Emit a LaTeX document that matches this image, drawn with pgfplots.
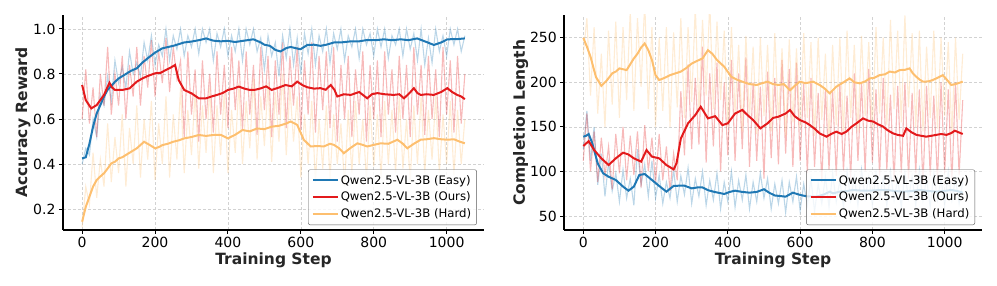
\documentclass[border=0pt]{standalone}
\usepackage{fontspec}
\setmainfont{DejaVu Sans}
\usepackage{pgfplots}
\pgfplotsset{compat=1.18}
\definecolor{cEasy}{HTML}{1F78B4}
\definecolor{cOurs}{HTML}{E31A1C}
\definecolor{cHard}{HTML}{FDBF6F}

\pgfplotsset{
  mystyle/.style={
    scale only axis,
    axis x line*=bottom, axis y line*=left,
    axis line style={-, line width=1.8pt, black},
    tick align=outside,
    major tick length=4pt,
    every tick/.style={black, line width=1pt},
    grid=major,
    major grid style={gray!35, dash pattern=on 3pt off 2pt, line width=0.6pt},
    xmin=-52.5, xmax=1102.5,
    xtick={0,200,400,600,800,1000},
    scaled ticks=false,
    /pgf/number format/assume math mode=true,
    /pgf/number format/1000 sep={},
    tick label style={font=\fontsize{14}{15}\selectfont},
    xlabel={\fontsize{15.5}{16}\selectfont\bfseries Training Step},
    xlabel style={at={(axis description cs:0.5,-0.14)}, anchor=center, text=black!85},
    legend cell align=left,
    legend image code/.code={\draw[#1, line width=2pt] (0pt,0pt) -- (25pt,0pt);},
    legend style={anchor=south east, draw=gray!70!black, rounded corners=2pt,
      fill=white, fill opacity=0.8, text opacity=1,
      font=\fontsize{11.7}{13}\selectfont, row sep=2.5pt, inner sep=3.5pt},
  },
  raw/.style={line width=1.1pt, opacity=0.3, forget plot},
  smooth/.style={line width=2pt},
}

\begin{document}
\begin{tikzpicture}
\path[use as bounding box] (0,0) rectangle (997pt,286pt);

% ---------------- Left: Accuracy Reward ----------------
\begin{axis}[mystyle,
  at={(63pt,56pt)}, anchor=south west,
  width=421pt, height=215pt,
  ymin=0.107, ymax=1.062,
  ytick={0.2,0.4,0.6,0.8,1.0},
  yticklabel style={/pgf/number format/.cd, fixed, fixed zerofill, precision=1},
  ylabel={\fontsize{15.5}{16}\selectfont\bfseries Accuracy Reward},
  ylabel style={at={(axis description cs:-0.095,0.5)}, anchor=center, text=black!85},
  legend style={at={(axis description cs:0.983,0.023)}},
]
% raw easy
\addplot[cEasy, raw] table {
0 0.40
10 0.47
20 0.44
30 0.60
40 0.52
50 0.71
60 0.66
70 0.79
80 0.68
90 0.86
100 0.76
110 0.83
120 0.74
130 0.90
140 0.80
150 0.85
160 0.79
170 0.94
180 0.86
190 0.97
200 0.84
210 0.93
220 0.88
230 1.00
240 0.86
250 0.97
260 0.91
270 1.00
280 0.88
290 0.97
300 0.92
310 1.00
320 0.89
330 1.00
340 0.94
350 1.00
360 0.86
370 0.98
380 0.92
390 1.00
400 0.88
410 0.97
420 0.90
430 1.00
440 0.86
450 1.00
460 0.93
470 1.00
480 0.90
490 0.96
500 0.82
510 0.97
520 0.88
530 0.94
540 0.79
550 0.97
560 0.87
570 1.00
580 0.84
590 0.96
600 0.80
610 0.98
620 0.89
630 1.00
640 0.84
650 0.97
660 0.90
670 1.00
680 0.85
690 0.98
700 0.91
710 1.00
720 0.86
730 0.97
740 0.92
750 1.00
760 0.87
770 1.00
780 0.93
790 0.98
800 0.88
810 1.00
820 0.92
830 1.00
840 0.87
850 0.97
860 0.93
870 1.00
880 0.88
890 1.00
900 0.91
910 0.98
920 0.86
930 1.00
940 0.84
950 0.96
960 0.85
970 1.00
980 0.90
990 0.97
1000 0.88
1010 1.00
1020 0.93
1030 1.00
1040 0.90
1050 0.97
};
% raw ours
\addplot[cOurs, raw] table {
0 0.60
10 0.82
20 0.58
30 0.74
40 0.52
50 0.80
60 0.66
70 0.92
80 0.62
90 0.80
100 0.66
110 0.88
120 0.60
130 0.84
140 0.70
150 0.92
160 0.66
170 0.88
180 0.74
190 0.95
200 0.70
210 0.90
220 0.76
230 0.96
240 0.72
250 0.92
260 0.78
270 0.86
280 0.52
290 0.90
300 0.62
310 0.82
320 0.50
330 0.86
340 0.60
350 0.80
360 0.54
370 0.90
380 0.62
390 0.84
400 0.56
410 0.92
420 0.64
430 0.86
440 0.55
450 0.90
460 0.62
470 0.84
480 0.53
490 0.92
500 0.64
510 0.88
520 0.52
530 0.86
540 0.62
550 0.94
560 0.56
570 0.88
580 0.66
590 0.92
600 0.55
610 0.86
620 0.62
630 0.94
640 0.54
650 0.88
660 0.64
670 0.90
680 0.56
690 0.92
700 0.50
710 0.84
720 0.60
730 0.88
740 0.52
750 0.82
760 0.62
770 0.90
780 0.50
790 0.84
800 0.60
810 0.86
820 0.52
830 0.90
840 0.62
850 0.82
860 0.54
870 0.88
880 0.60
890 0.84
900 0.52
910 0.92
920 0.62
930 0.84
940 0.53
950 0.88
960 0.60
970 0.82
980 0.52
990 0.92
1000 0.62
1010 0.86
1020 0.54
1030 0.88
1040 0.58
1050 0.80
};
% raw hard
\addplot[cHard, raw] table {
0 0.12
10 0.30
20 0.22
30 0.45
40 0.25
50 0.42
60 0.30
70 0.58
80 0.32
90 0.52
100 0.36
110 0.62
120 0.30
130 0.56
140 0.40
150 0.66
160 0.34
170 0.60
180 0.42
190 0.68
200 0.33
210 0.58
220 0.40
230 0.70
240 0.34
250 0.62
260 0.42
270 0.74
280 0.36
290 0.64
300 0.44
310 0.72
320 0.38
330 0.66
340 0.45
350 0.74
360 0.36
370 0.66
380 0.44
390 0.72
400 0.36
410 0.64
420 0.45
430 0.76
440 0.40
450 0.68
460 0.47
470 0.78
480 0.42
490 0.70
500 0.48
510 0.76
520 0.41
530 0.72
540 0.50
550 0.80
560 0.44
570 0.74
580 0.50
590 0.70
600 0.34
610 0.62
620 0.40
630 0.68
640 0.32
650 0.60
660 0.38
670 0.66
680 0.33
690 0.62
700 0.40
710 0.58
720 0.30
730 0.64
740 0.36
750 0.68
760 0.40
770 0.60
780 0.33
790 0.66
800 0.39
810 0.62
820 0.34
830 0.68
840 0.40
850 0.64
860 0.36
870 0.70
880 0.38
890 0.60
900 0.32
910 0.66
920 0.40
930 0.70
940 0.36
950 0.64
960 0.42
970 0.70
980 0.36
990 0.62
1000 0.40
1010 0.68
1020 0.35
1030 0.64
1040 0.40
1050 0.60
};
% smoothed
\addplot[cEasy, smooth] table {
0 0.425
10 0.43
20 0.49
30 0.566
40 0.625
50 0.662
60 0.70
70 0.73
80 0.747
90 0.765
100 0.78
120 0.80
135 0.815
150 0.825
165 0.85
180 0.87
200 0.895
220 0.914
250 0.925
280 0.94
300 0.944
320 0.95
340 0.958
360 0.948
380 0.945
400 0.947
420 0.942
440 0.947
470 0.954
490 0.94
500 0.93
515 0.925
530 0.907
544 0.90
560 0.915
572 0.92
585 0.915
599 0.91
618 0.929
636 0.93
654 0.925
670 0.93
691 0.94
710 0.94
737 0.945
760 0.945
782 0.951
805 0.95
828 0.954
850 0.95
874 0.954
895 0.95
919 0.958
940 0.945
965 0.929
985 0.94
1002 0.954
1030 0.955
1050 0.958
};
\addlegendentry{Qwen2.5-VL-3B (Easy)}
\addplot[cOurs, smooth] table {
0 0.751
10 0.684
25 0.647
40 0.662
60 0.707
75 0.761
82 0.74
90 0.729
110 0.729
130 0.736
150 0.766
165 0.78
180 0.791
200 0.803
215 0.805
230 0.818
245 0.83
255 0.84
265 0.773
280 0.729
300 0.714
320 0.692
340 0.692
355 0.70
370 0.707
385 0.715
400 0.729
415 0.735
430 0.744
445 0.735
460 0.729
475 0.73
490 0.736
505 0.745
520 0.729
540 0.74
558 0.751
575 0.745
590 0.766
605 0.75
618 0.741
636 0.735
654 0.737
668 0.73
682 0.751
692 0.73
700 0.70
718 0.71
737 0.707
760 0.72
782 0.692
795 0.71
810 0.715
830 0.71
855 0.707
870 0.71
883 0.692
898 0.715
910 0.737
920 0.715
929 0.707
945 0.71
965 0.707
985 0.72
1002 0.737
1015 0.72
1029 0.707
1040 0.70
1050 0.688
};
\addlegendentry{Qwen2.5-VL-3B (Ours)}
\addplot[cHard, smooth] table {
0 0.144
10 0.21
20 0.255
30 0.30
40 0.329
50 0.345
60 0.359
70 0.38
80 0.403
90 0.41
100 0.425
110 0.43
120 0.44
135 0.455
150 0.47
170 0.499
185 0.485
200 0.47
210 0.475
220 0.484
235 0.49
250 0.499
265 0.505
280 0.514
300 0.52
320 0.529
340 0.525
360 0.529
380 0.53
400 0.514
420 0.53
440 0.551
460 0.545
480 0.558
500 0.555
520 0.566
540 0.57
560 0.58
572 0.589
590 0.574
608 0.508
627 0.478
645 0.48
663 0.478
680 0.49
691 0.485
705 0.47
718 0.448
735 0.47
755 0.492
770 0.485
782 0.478
800 0.485
819 0.492
840 0.49
865 0.508
880 0.49
892 0.47
910 0.49
929 0.508
945 0.51
965 0.515
985 0.51
1002 0.508
1020 0.51
1035 0.50
1050 0.492
};
\addlegendentry{Qwen2.5-VL-3B (Hard)}
\end{axis}

% ---------------- Right: Completion Length ----------------
\begin{axis}[mystyle,
  at={(564.3pt,56pt)}, anchor=south west,
  width=417.4pt, height=215pt,
  ymin=34.3, ymax=275.5,
  ytick={50,100,150,200,250},
  ylabel={\fontsize{15.5}{16}\selectfont\bfseries Completion Length},
  ylabel style={at={(axis description cs:-0.1045,0.5)}, anchor=center, text=black!85},
  legend style={at={(axis description cs:0.984,0.023)}},
]
% raw easy
\addplot[cEasy, raw] table {
0 125
10 168
20 112
30 150
40 85
50 120
60 72
70 110
80 78
90 98
100 66
110 102
120 70
130 92
140 62
150 125
160 85
170 108
180 72
190 112
200 70
210 96
220 64
230 88
240 70
250 102
260 66
270 95
280 74
290 104
300 64
310 92
320 72
330 100
340 62
350 90
360 68
370 98
380 58
390 88
400 66
410 100
420 60
430 90
440 68
450 96
460 58
470 88
480 66
490 98
500 70
510 92
520 58
530 86
540 64
550 90
560 54
570 88
580 66
590 94
600 56
610 86
620 62
630 92
640 55
650 86
660 64
670 94
680 60
690 98
700 66
710 90
720 60
730 100
740 68
750 94
760 62
770 102
780 70
790 94
800 62
810 98
820 70
830 92
840 62
850 100
860 68
870 92
880 60
890 98
900 70
910 94
920 62
930 102
940 68
950 92
960 60
970 98
980 68
990 92
1000 62
1010 100
1020 68
1030 92
1040 64
1050 88
};
% raw ours
\addplot[cOurs, raw] table {
0 112
10 165
20 100
30 145
40 88
50 138
60 95
70 128
80 80
90 142
100 98
110 150
120 90
130 140
140 96
150 145
160 82
170 152
180 100
190 138
200 86
210 142
220 90
230 128
240 78
250 120
260 90
270 190
280 118
290 220
300 125
310 205
320 130
330 240
340 110
350 210
360 128
370 222
380 100
390 200
400 118
410 225
420 112
430 210
440 125
450 228
460 105
470 200
480 112
490 195
500 92
510 212
520 115
530 205
540 108
550 225
560 120
570 215
580 105
590 222
600 112
610 198
620 98
630 205
640 105
650 188
660 88
670 192
680 102
690 190
700 95
710 198
720 100
730 185
740 92
750 210
760 112
770 200
780 100
790 215
800 110
810 192
820 95
830 205
840 102
850 186
860 88
870 196
880 98
890 200
900 92
910 188
920 98
930 192
940 85
950 196
960 95
970 185
980 90
990 200
1000 98
1010 192
1020 88
1030 200
1040 96
1050 180
};
% raw hard
\addplot[cHard, raw] table {
0 232
10 272
20 185
30 262
40 165
50 232
60 150
70 258
80 175
90 268
100 160
110 262
120 180
130 280
140 168
150 272
160 195
170 290
180 170
190 262
200 150
210 250
220 168
230 262
240 150
250 256
260 172
270 272
280 160
290 262
300 178
310 285
320 165
330 270
340 185
350 290
360 170
370 268
380 180
390 258
400 150
410 262
420 165
430 242
440 145
450 252
460 160
470 240
480 142
490 250
500 162
510 242
520 145
530 255
540 158
550 238
560 140
570 248
580 155
590 238
600 148
610 255
620 160
630 245
640 140
650 250
660 158
670 232
680 135
690 242
700 152
710 250
720 142
730 258
740 160
750 242
760 145
770 252
780 162
790 245
800 148
810 262
820 165
830 250
840 152
850 270
860 170
870 258
880 155
890 275
900 172
910 255
920 150
930 258
940 145
950 240
960 160
970 258
980 148
990 250
1000 162
1010 245
1020 140
1030 250
1040 158
1050 232
};
% smoothed
\addplot[cEasy, smooth] table {
0 139
8 140
15 142
25 131.5
40 109
55 97.9
70 94.1
90 90.4
110 83
125 78.4
140 83
155 96
170 97.1
190 90.4
210 83.7
230 77.3
250 83.7
265 84
280 84
300 81
315 82
330 82
345 79
360 77.3
375 76
390 74.7
405 77
420 78.4
440 77
460 76.2
480 77
500 80
515 76
530 73
545 72.4
560 71.7
580 76.2
600 73.6
620 72
645 71.7
665 74
682 77.3
691 75.4
710 77.3
730 78
746 79.2
770 78.5
793 78.4
815 79
839 79.2
862 78
885 77.3
908 78
931 79.2
955 78
977 77.3
998 78
1018 79.2
1035 78
1050 76.2
};
\addlegendentry{Qwen2.5-VL-3B (Easy)}
\addplot[cOurs, smooth] table {
0 128.5
15 134
30 124
50 114.7
70 107.2
90 114.7
110 121
125 119
140 114.7
160 111
175 124
190 116.6
210 114.7
230 107.2
250 102.3
258 109
270 137
290 154
310 163.3
325 172.6
345 159.5
365 162
385 152
400 154
420 165
440 169
455 163
470 157.7
490 148.3
510 154
525 160
540 161.4
560 165
572 168.9
585 162
599 157.7
615 155
627 152
640 148
654 142.7
673 139
686 142
700 144.6
715 142
728 144.6
742 150
756 154
774 159.5
788 157
802 156
815 153
829 150.4
843 146
857 142.7
870 141
885 140
894 148.3
908 144
922 141
935 140
949 139
963 140
977 141
990 142
1005 141
1018 143
1028 145.7
1050 142
};
\addlegendentry{Qwen2.5-VL-3B (Ours)}
\addplot[cHard, smooth] table {
0 250
10 240
20 228.7
35 206
50 196
65 202
80 210
90 212
100 215.6
120 213.7
140 226.8
150 232
160 239
170 243.6
180 236
190 225
200 208
210 202.5
225 205
240 208
255 210
270 212
285 216
300 221
315 224
330 226.8
345 236
357 232
370 225
390 217.5
410 206
425 203
440 200.7
460 198
480 197
495 199
510 200.7
525 198
540 197
555 198
572 191
585 196
599 200.7
615 199
636 200.7
654 197
668 193
682 187.6
700 195
720 200
737 204.4
750 200
765 198.8
780 201
793 204.4
805 205
820 208
835 209
848 212
862 211
876 213.7
890 214
903 215.6
912 210
922 206
931 203
940 200.7
955 201
967 202.5
980 205
995 208
1008 202
1018 197
1030 198
1050 200.7
};
\addlegendentry{Qwen2.5-VL-3B (Hard)}
\end{axis}
\end{tikzpicture}
\end{document}
